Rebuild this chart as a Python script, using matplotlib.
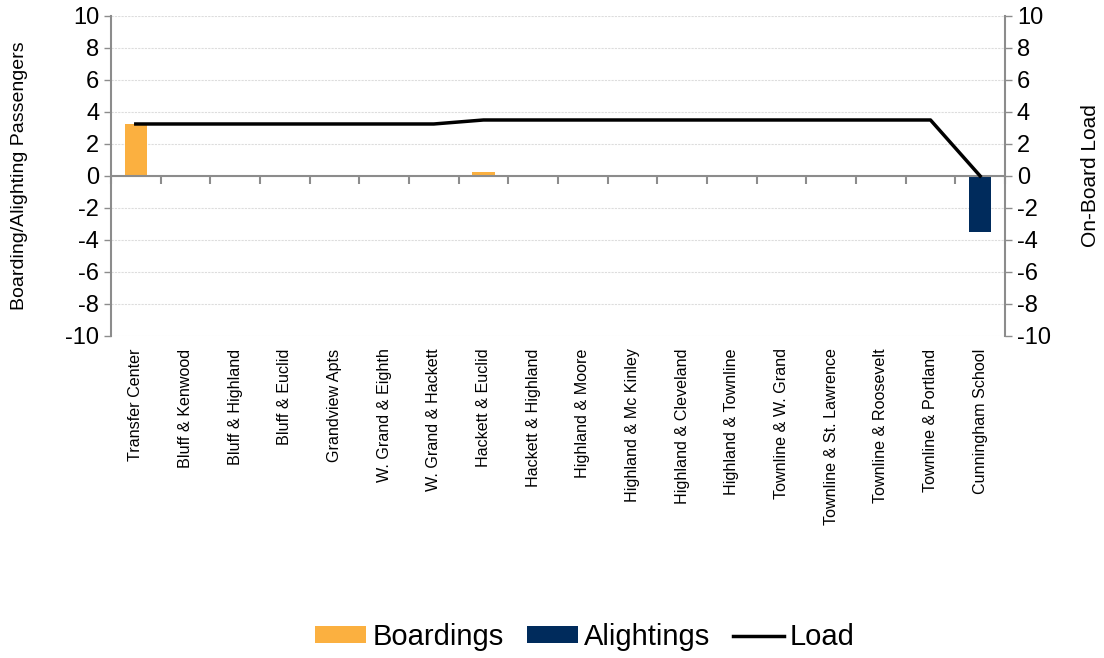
import matplotlib
matplotlib.use("Agg")
import matplotlib.pyplot as plt
import numpy as np

plt.rcParams['font.family'] = ['Liberation Sans', 'DejaVu Sans']
plt.rcParams['axes.unicode_minus'] = False

stops = ["Transfer Center", "Bluff & Kenwood", "Bluff & Highland", "Bluff & Euclid",
         "Grandview Apts", "W. Grand & Eighth", "W. Grand & Hackett", "Hackett & Euclid",
         "Hackett & Highland", "Highland & Moore", "Highland & Mc Kinley",
         "Highland & Cleveland", "Highland & Townline", "Townline & W. Grand",
         "Townline & St. Lawrence", "Townline & Roosevelt", "Townline & Portland",
         "Cunningham School"]
boardings = [3.25, 0, 0, 0, 0, 0, 0, 0.25, 0, 0, 0, 0, 0, 0, 0, 0, 0, 0]
alightings = [0, 0, 0, 0, 0, 0, 0, 0, 0, 0, 0, 0, 0, 0, 0, 0, 0, -3.5]
load = [3.25, 3.25, 3.25, 3.25, 3.25, 3.25, 3.25, 3.5, 3.5, 3.5, 3.5, 3.5, 3.5,
        3.5, 3.5, 3.5, 3.5, 0]
y_ticks = list(range(-10, 11, 2))

ORANGE = "#FBB040"
NAVY = "#002B5C"
GRAY = "#8C8C8C"

fig = plt.figure(figsize=(11.04, 6.58), dpi=100)
ax = fig.add_axes([0.1005, 0.4894, 0.8098, 0.4863])
x = np.arange(len(stops))

ax.set_ylim(-10, 10)
ax.set_xlim(-0.5, len(stops) - 0.5)
ax.set_yticks(y_ticks)
ax.yaxis.grid(True, color="#DDDDDD", linestyle=(0, (2, 1)), linewidth=0.8)
ax.set_axisbelow(True)

b1 = ax.bar(x, boardings, width=0.45, color=ORANGE, label="Boardings", zorder=2)
b2 = ax.bar(x, alightings, width=0.45, color=NAVY, label="Alightings", zorder=2)

ax.axhline(0, color=GRAY, linewidth=1.5, zorder=3)

# stop names along the bottom edge
ax.set_xticks(x)
ax.set_xticklabels(stops, rotation=90, fontsize=11.6)
ax.tick_params(axis="x", length=0, pad=9)
ax.tick_params(axis="y", labelsize=17, color=GRAY, length=5, width=1)

for s in ["top", "bottom", "right"]:
    ax.spines[s].set_visible(False)
ax.spines["left"].set_color(GRAY)
ax.spines["left"].set_linewidth(1.5)

# boundary ticks on the zero line, hanging below it
sec = ax.secondary_xaxis(0.5)
sec.set_xticks(np.arange(-0.5, len(stops), 1.0))
sec.set_xticklabels([])
sec.tick_params(axis="x", direction="in", length=6, width=1.5, color=GRAY)
for s in sec.spines.values():
    s.set_visible(False)

ax2 = ax.twinx()
ax2.set_ylim(-10, 10)
ax2.set_yticks(y_ticks)
ax2.tick_params(axis="y", labelsize=17, color=GRAY, length=5, width=1)
for s in ["top", "bottom", "left"]:
    ax2.spines[s].set_visible(False)
ax2.spines["right"].set_color(GRAY)
ax2.spines["right"].set_linewidth(1.5)
ln, = ax2.plot(x, load, color="black", linewidth=2.5, label="Load", zorder=4)

ax.set_ylabel("Boarding/Alighting Passengers", fontsize=14)
ax.yaxis.set_label_coords(-0.093, 0.5)
ax2.set_ylabel("On-Board Load", fontsize=15)
ax2.yaxis.set_label_coords(1.085, 0.5)

fig.legend(handles=[b1, b2, ln], labels=["Boardings", "Alightings", "Load"],
           loc="center", bbox_to_anchor=(0.53, 0.032), ncol=3, frameon=False,
           fontsize=21, handlelength=1.75, handleheight=0.5, handletextpad=0.2,
           columnspacing=0.8)

fig.savefig("out.png", dpi=100)
